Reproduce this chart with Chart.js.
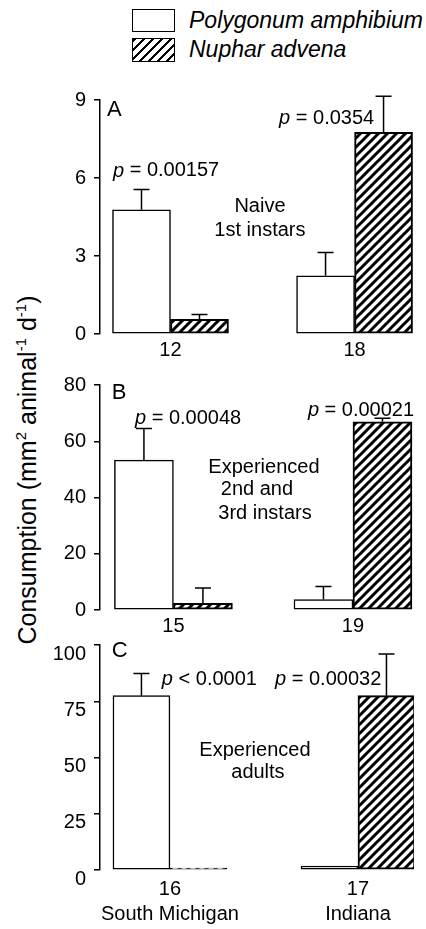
<!DOCTYPE html>
<html>
<head>
<meta charset="utf-8">
<script src="https://cdn.jsdelivr.net/npm/chart.js@4"></script>
<style>
  body { margin: 0; background: #fff; }
  #page { position: relative; width: 426px; height: 929px; font-family: 'Liberation Sans', Arial, sans-serif; color: #000; }
  .panel { position: absolute; left: 0; width: 426px; }
  .key { position: absolute; left: 132px; width: 43px; box-sizing: border-box; border: 1.5px solid #000; }
  .keytext { position: absolute; left: 189px; font-style: italic; font-size: 23px; line-height: 26px; white-space: nowrap; }
  #ytitle { position: absolute; left: 27px; top: 470px; transform: translate(-50%, -50%) rotate(-90deg); font-size: 25px; white-space: nowrap; }
  #ytitle sup { font-size: 15px; }
</style>
</head>
<body>
<div id="page">
  <div class="key" style="top:9px;height:23px;background:#fff"></div>
  <div class="keytext" style="top:7px">Polygonum amphibium</div>
  <div class="key" style="top:38px;height:24px;background:repeating-linear-gradient(135deg,#000 0 2.2px,#fff 2.2px 6.4px)"></div>
  <div class="keytext" style="top:36px">Nuphar advena</div>
  <div id="ytitle">Consumption (mm<sup>2</sup> animal<sup>-1</sup> d<sup>-1</sup>)</div>

  <div class="panel" style="top:80px;height:290px"><canvas id="chartA"></canvas></div>
  <div class="panel" style="top:365px;height:280px"><canvas id="chartB"></canvas></div>
  <div class="panel" style="top:625px;height:304px"><canvas id="chartC"></canvas></div>
</div>
<script>
// Panel A - naive 1st instars
const labelsA = ['12', '18'];
const polyA = [4.78, 2.24];
const polyErrA = [0.78, 0.89];
const nupharA = [0.56, 7.76];
const nupharErrA = [0.19, 1.38];

// Panel B - experienced 2nd and 3rd instars
const labelsB = ['15', '19'];
const polyB = [53.3, 3.7];
const polyErrB = [11.2, 4.7];
const nupharB = [2.4, 66.9];
const nupharErrB = [5.4, 1.3];

// Panel C - experienced adults
const labelsC = [['16', 'South Michigan'], ['17', 'Indiana']];
const polyC = [77.5, 1.7];
const polyErrC = [9.8, 0];
const nupharC = [0.8, 77.5];
const nupharErrC = [0, 18.5];

const ticksA = [0, 3, 6, 9];
const ticksB = [0, 20, 40, 60, 80];
const ticksC = [0, 25, 50, 75, 100];

Chart.defaults.font.family = "'Liberation Sans', Arial, sans-serif";
Chart.defaults.font.size = 20;
Chart.defaults.color = '#000';

function hatch() {
  const c = document.createElement('canvas');
  c.width = c.height = 9;
  const g = c.getContext('2d');
  g.fillStyle = '#fff';
  g.fillRect(0, 0, 9, 9);
  g.strokeStyle = '#000';
  g.lineWidth = 3;
  g.beginPath();
  g.moveTo(-2, 11); g.lineTo(11, -2);
  g.moveTo(-2, 2); g.lineTo(2, -2);
  g.moveTo(7, 11); g.lineTo(11, 7);
  g.stroke();
  return g.createPattern(c, 'repeat');
}
const stripes = hatch();

// upper error bars with a cap
const errorBars = {
  id: 'errorBars',
  afterDatasetsDraw(chart) {
    const { ctx } = chart;
    const y = chart.scales.y;
    chart.data.datasets.forEach((ds, di) => {
      chart.getDatasetMeta(di).data.forEach((bar, i) => {
        const e = ds.errors[i];
        if (!e) return;
        const top = y.getPixelForValue(ds.data[i].y + e);
        ctx.save();
        ctx.strokeStyle = '#000';
        ctx.lineWidth = 1.5;
        ctx.beginPath();
        ctx.moveTo(bar.x, bar.y);
        ctx.lineTo(bar.x, top);
        ctx.moveTo(bar.x - 8, top);
        ctx.lineTo(bar.x + 8, top);
        ctx.stroke();
        ctx.restore();
      });
    });
  }
};

// text notes placed in scale units
const notes = {
  id: 'notes',
  afterDraw(chart, args, opts) {
    const { ctx } = chart;
    const xs = chart.scales.x, ys = chart.scales.y;
    ctx.save();
    ctx.fillStyle = '#000';
    ctx.textBaseline = 'middle';
    opts.items.forEach(n => {
      let px = xs.getPixelForValue(n.x);
      const py = ys.getPixelForValue(n.y);
      const size = n.size || 20;
      const plain = size + "px 'Liberation Sans', Arial, sans-serif";
      ctx.font = plain;
      let text = n.text;
      const w = ctx.measureText(text).width;
      if (n.align === 'center') px -= w / 2;
      ctx.textAlign = 'left';
      if (text.startsWith('p ')) {
        ctx.font = 'italic ' + plain;
        ctx.fillText('p', px, py);
        px += ctx.measureText('p').width;
        ctx.font = plain;
        text = text.slice(1);
      }
      ctx.fillText(text, px, py);
    });
    ctx.restore();
  }
};

function makePanel(id, cfg) {
  return new Chart(document.getElementById(id), {
    type: 'bar',
    data: {
      datasets: [{
        label: 'Polygonum amphibium',
        data: cfg.poly.map((v, i) => ({ x: i, y: v })),
        errors: cfg.polyErr,
        backgroundColor: '#fff',
        borderColor: '#000',
        borderWidth: 1.5,
        borderSkipped: false,
        barThickness: cfg.thick
      }, {
        label: 'Nuphar advena',
        data: cfg.nuphar.map((v, i) => ({ x: i, y: v })),
        errors: cfg.nupharErr,
        backgroundColor: stripes,
        borderColor: '#000',
        borderWidth: 2,
        borderSkipped: false,
        barThickness: cfg.thick
      }]
    },
    options: {
      responsive: true,
      maintainAspectRatio: false,
      animation: false,
      layout: { padding: { top: cfg.padTop, right: 12, left: 0, bottom: 0 } },
      plugins: {
        legend: { display: false },
        tooltip: { enabled: false },
        notes: { items: cfg.notes }
      },
      scales: {
        x: {
          type: 'linear',
          offset: false,
          min: cfg.xmin,
          max: cfg.xmax,
          grid: { display: false, drawTicks: false },
          border: { display: false },
          afterBuildTicks: s => { s.ticks = cfg.labels.map((_, i) => ({ value: i })); },
          afterFit: s => { s.height = cfg.xHeight; },
          ticks: {
            padding: cfg.xPad,
            maxRotation: 0,
            autoSkip: false,
            font: { size: 20, lineHeight: 1.25 },
            callback: v => cfg.labels[v]
          }
        },
        y: {
          min: cfg.ticks[0],
          max: cfg.ticks[cfg.ticks.length - 1],
          afterBuildTicks: s => { s.ticks = cfg.ticks.map(v => ({ value: v })); },
          afterFit: s => { s.width = 100; },
          grid: { display: true, drawOnChartArea: false, drawTicks: true, tickLength: 6, color: '#000', lineWidth: 1.5 },
          border: { display: true, color: '#000', width: 1.5 },
          ticks: { padding: 8, labelOffset: cfg.labelOffset || 0, font: { size: 20 } }
        }
      }
    },
    plugins: [errorBars, notes]
  });
}

makePanel('chartA', {
  labels: labelsA, poly: polyA, polyErr: polyErrA, nuphar: nupharA, nupharErr: nupharErrA,
  ticks: ticksA, thick: 58, xmin: -0.383, xmax: 1.323, padTop: 13, xHeight: 36, xPad: 4,
  notes: [
    { text: 'A', x: -0.345, y: 8.62, size: 22 },
    { text: 'p = 0.00157', x: -0.3125, y: 6.27 },
    { text: 'p = 0.0354', x: 0.59, y: 8.28 },
    { text: 'Naive', x: 0.486, y: 4.89, align: 'center' },
    { text: '1st instars', x: 0.486, y: 3.99, align: 'center' }
  ]
});

makePanel('chartB', {
  labels: labelsB, poly: polyB, polyErr: polyErrB, nuphar: nupharB, nupharErr: nupharErrB,
  ticks: ticksB, thick: 59, xmin: -0.409, xmax: 1.34, padTop: 8, xHeight: 35, xPad: 4,
  notes: [
    { text: 'B', x: -0.343, y: 77.3, size: 22 },
    { text: 'p = 0.00048', x: -0.214, y: 68.2 },
    { text: 'p = 0.00021', x: 0.749, y: 70.9 },
    { text: 'Experienced', x: 0.504, y: 50.6, align: 'center' },
    { text: '2nd and', x: 0.465, y: 42.9, align: 'center' },
    { text: '3rd instars', x: 0.51, y: 34.4, align: 'center' }
  ]
});

makePanel('chartC', {
  labels: labelsC, poly: polyC, polyErr: polyErrC, nuphar: nupharC, nupharErr: nupharErrC,
  ticks: ticksC, thick: 57, xmin: -0.372, xmax: 1.298, padTop: 9, xHeight: 59, xPad: 7, labelOffset: 9,
  notes: [
    { text: 'C', x: -0.309, y: 97.5, size: 22 },
    { text: 'p < 0.0001', x: -0.043, y: 84.7 },
    { text: 'p = 0.00032', x: 0.559, y: 84.7 },
    { text: 'Experienced', x: 0.452, y: 53, align: 'center' },
    { text: 'adults', x: 0.468, y: 43.2, align: 'center' }
  ]
});
</script>
</body>
</html>
